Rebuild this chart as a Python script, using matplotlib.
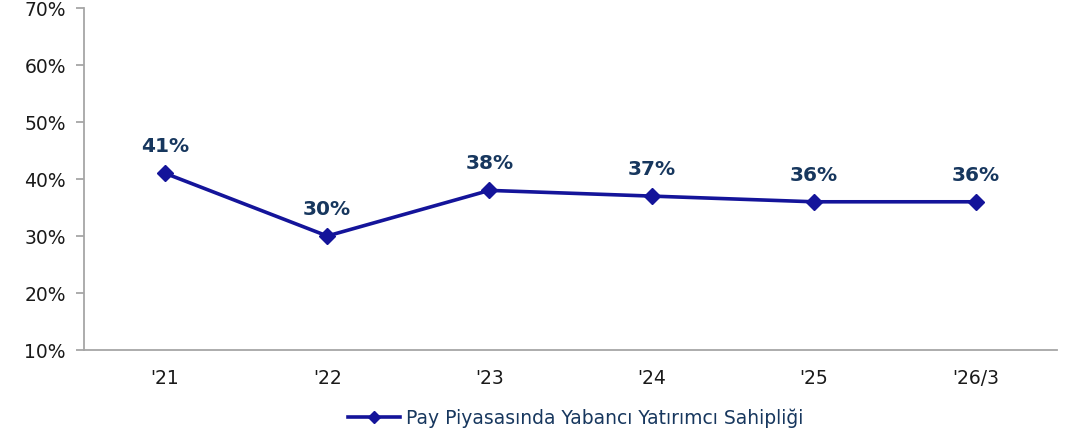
import matplotlib
matplotlib.use("Agg")
import matplotlib.pyplot as plt
from matplotlib.ticker import FuncFormatter

# veri
yillar = ["'21", "'22", "'23", "'24", "'25", "'26/3"]
oranlar = [41, 30, 38, 37, 36, 36]
seri_adi = "Pay Piyasasında Yabancı Yatırımcı Sahipliği"

cizgi_renk = "#14149a"
etiket_renk = "#17375e"
eksen_renk = "#a6a6a6"

plt.rcParams['font.family'] = ['DejaVu Sans']

fig = plt.figure(figsize=(10.77, 4.39), dpi=100)
ax = fig.add_axes([0.078, 0.2005, 0.9034, 0.779])

x = list(range(len(yillar)))
ax.plot(x, oranlar, color=cizgi_renk, lw=2.6, marker='D', markersize=8,
        label=seri_adi)

for xi, v in zip(x, oranlar):
    ax.annotate(f"{v}%", (xi, v), xytext=(0, 13), textcoords='offset points',
                ha='center', va='bottom', fontsize=14.5, fontweight='bold',
                color=etiket_renk)

ax.set_xlim(-0.5, len(yillar) - 0.5)
ax.set_ylim(10, 70)
ax.set_yticks(range(10, 71, 10))
ax.yaxis.set_major_formatter(FuncFormatter(lambda v, p: f"{v:.0f}%"))
ax.set_xticks(x)
ax.set_xticklabels(yillar)

for s in ['top', 'right']:
    ax.spines[s].set_visible(False)
for s in ['left', 'bottom']:
    ax.spines[s].set_color(eksen_renk)
    ax.spines[s].set_linewidth(1.3)

ax.tick_params(axis='y', length=6, color=eksen_renk, width=1.3,
               labelsize=13.5, pad=7, labelcolor='#1a1a1a')
ax.tick_params(axis='x', length=0, labelsize=13.5, pad=13, labelcolor='#1a1a1a')

leg = ax.legend(loc='upper center', bbox_to_anchor=(0.505, -0.12),
                frameon=False, fontsize=13.5, handlelength=2.8,
                handletextpad=0.3, markerscale=0.75)
for t in leg.get_texts():
    t.set_color(etiket_renk)

fig.savefig("out.png", dpi=100)
